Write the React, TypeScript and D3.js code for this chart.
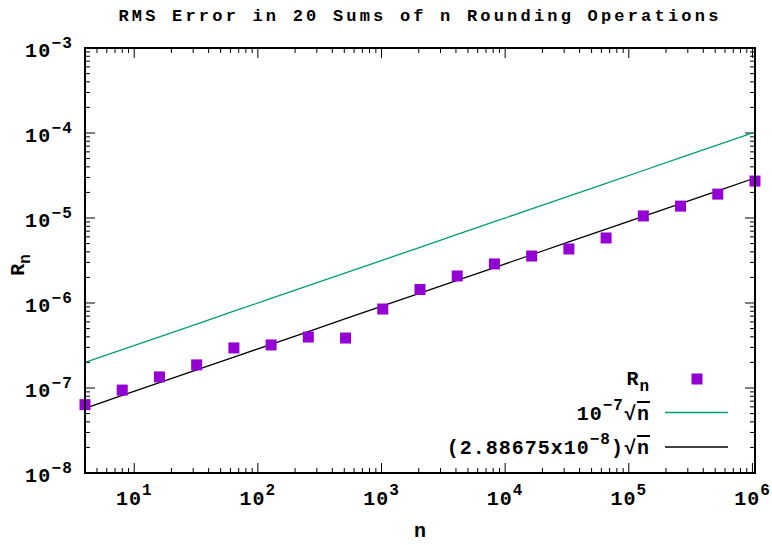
import React from 'react';
import * as d3 from 'd3';

// n = 2^2 .. 2^20
const nValues = [4, 8, 16, 32, 64, 128, 256, 512, 1024, 2048, 4096, 8192, 16384, 32768, 65536, 131072, 262144, 524288, 1048576];
// RMS error
const rmsValues = [6.37e-8, 9.45e-8, 1.35e-7, 1.87e-7, 2.96e-7, 3.21e-7, 3.98e-7, 3.87e-7, 8.5e-7, 1.44e-6, 2.08e-6, 2.88e-6, 3.57e-6, 4.32e-6, 5.82e-6, 1.057e-5, 1.38e-5, 1.91e-5, 2.72e-5];
const xTickExps = [1, 2, 3, 4, 5, 6];
const yTickExps = [-8, -7, -6, -5, -4, -3];
const coefUpper = 1e-7;
const coefFit = 2.88675e-8;

const FONT = '"Liberation Mono", "Courier New", monospace';

const App = () => {
  const width = 772;
  const height = 545;
  const left = 85, right = 755, top = 48, bottom = 473;

  const x = d3.scaleLog().domain([4, 1048576]).range([left, right]);
  const y = d3.scaleLog().domain([1e-8, 1e-3]).range([bottom, top]);

  const upper = nValues.map(n => coefUpper * Math.sqrt(n));
  const fit = nValues.map(n => coefFit * Math.sqrt(n));
  const sqrtLine = d3.line<number>().x((d, i) => x(nValues[i])).y(d => y(d));

  // minor ticks
  const xMinor: number[] = [];
  for (let e = 0; e <= 6; e++) {
    for (let k = 2; k <= 9; k++) {
      const v = k * Math.pow(10, e);
      if (v > 4 && v < 1048576) xMinor.push(v);
    }
  }
  const yMinor: number[] = [];
  for (let e = -8; e < -3; e++) {
    for (let k = 2; k <= 9; k++) yMinor.push(k * Math.pow(10, e));
  }

  const major = 10, minor = 5;
  const sq = 11;

  return (
    <svg width={width} height={height} style={{position: 'absolute', left: 0, top: 0, background: '#fff'}}
      fontFamily={FONT} fontWeight="bold">
      <rect x={0} y={0} width={width} height={height} fill="#fff" />

      {/* ticks */}
      <g stroke="#000" strokeWidth={1}>
        {xTickExps.map(e => {
          const px = x(Math.pow(10, e));
          return <g key={'xm' + e}>
            <line x1={px} x2={px} y1={bottom} y2={bottom - major} />
            <line x1={px} x2={px} y1={top} y2={top + major} />
          </g>;
        })}
        {xMinor.map(v => {
          const px = x(v);
          return <g key={'xn' + v}>
            <line x1={px} x2={px} y1={bottom} y2={bottom - minor} />
            <line x1={px} x2={px} y1={top} y2={top + minor} />
          </g>;
        })}
        {yTickExps.map(e => {
          const py = y(Math.pow(10, e));
          return <g key={'ym' + e}>
            <line x1={left} x2={left + major} y1={py} y2={py} />
            <line x1={right} x2={right - major} y1={py} y2={py} />
          </g>;
        })}
        {yMinor.map(v => {
          const py = y(v);
          return <g key={'yn' + v}>
            <line x1={left} x2={left + minor} y1={py} y2={py} />
            <line x1={right} x2={right - minor} y1={py} y2={py} />
          </g>;
        })}
      </g>

      {/* lines */}
      <path d={sqrtLine(upper) || ''} fill="none" stroke="#009e73" strokeWidth={1.3} />
      <path d={sqrtLine(fit) || ''} fill="none" stroke="#000" strokeWidth={1.3} />

      {/* points */}
      {nValues.map((n, i) => (
        <rect key={'p' + n} x={x(n) - sq / 2} y={y(rmsValues[i]) - sq / 2} width={sq} height={sq} fill="#9400d3" />
      ))}

      <rect x={left} y={top} width={right - left} height={bottom - top} fill="none" stroke="#000" strokeWidth={2} />

      {/* tick labels */}
      {xTickExps.map(e => (
        <text key={'xl' + e} x={x(Math.pow(10, e))} y={505} textAnchor="middle" fontSize={20} letterSpacing={1}>
          10<tspan dy={-10} fontSize={16}>{e}</tspan>
        </text>
      ))}
      {yTickExps.map(e => (
        <text key={'yl' + e} x={73} y={y(Math.pow(10, e)) + 9} textAnchor="end" fontSize={20} letterSpacing={1.2}>
          10<tspan dy={-9} fontSize={16}>{'\u2212' + (-e)}</tspan>
        </text>
      ))}

      {/* title and axis labels */}
      <text x={420} y={21} textAnchor="middle" fontSize={17} letterSpacing={3.2}>
        RMS Error in 20 Sums of n Rounding Operations
      </text>
      <text x={420} y={537} textAnchor="middle" fontSize={20}>n</text>
      <text transform="translate(24,265) rotate(-90)" textAnchor="middle" fontSize={20}>
        R<tspan dy={6} fontSize={16}>n</tspan>
      </text>

      {/* legend */}
      <g fontSize={20} letterSpacing={1}>
        <text x={650} y={385} textAnchor="end">R<tspan dy={6} fontSize={16}>n</tspan></text>
        <rect x={697 - sq / 2} y={379 - sq / 2} width={sq} height={sq} fill="#9400d3" />

        <text x={650} y={420} textAnchor="end">
          10<tspan dy={-10} fontSize={16}>{'\u22127'}</tspan><tspan dy={10}>{'\u221A'}</tspan><tspan textDecoration="overline">n</tspan>
        </text>
        <line x1={665} x2={728} y1={412.5} y2={412.5} stroke="#009e73" strokeWidth={1.3} />

        <text x={650} y={454} textAnchor="end">
          (2.88675x10<tspan dy={-10} fontSize={16}>{'\u22128'}</tspan><tspan dy={10}>){'\u221A'}</tspan><tspan textDecoration="overline">n</tspan>
        </text>
        <line x1={665} x2={728} y1={447} y2={447} stroke="#000" strokeWidth={1.3} />
      </g>
    </svg>
  );
};

export default App;
